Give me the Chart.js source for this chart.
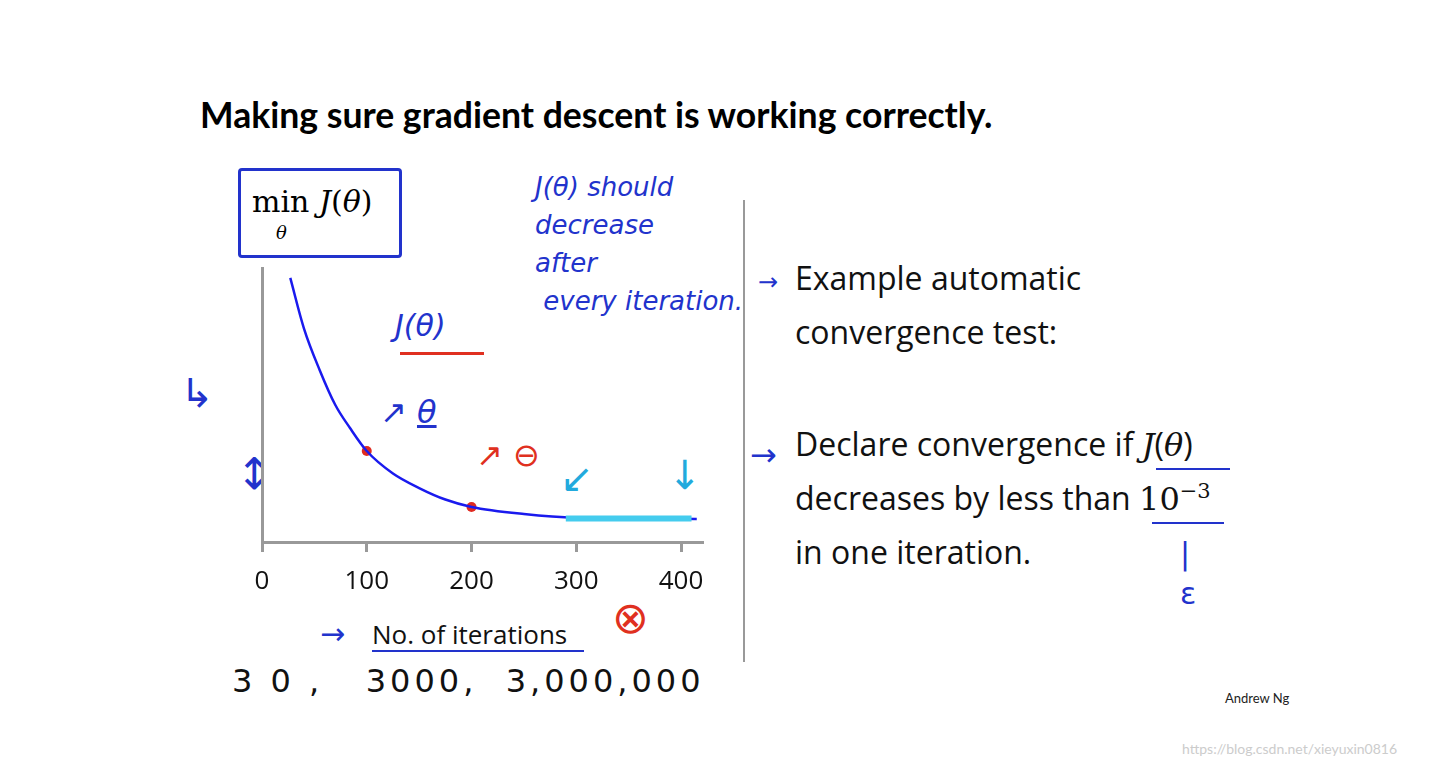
<!DOCTYPE html>
<html><head><meta charset="utf-8">
<script src="https://cdn.jsdelivr.net/npm/chart.js@4/dist/chart.umd.min.js"></script>
<style>
body{margin:0;width:1431px;height:766px;background:#fff;position:relative;overflow:hidden;font-family:Lato,"Open Sans",sans-serif}
.t{position:absolute;white-space:nowrap}
.h{color:#2233cc;font-family:"DejaVu Sans";font-style:italic;font-size:26px}
.r{font-size:32px;color:#111;font-family:"Open Sans"}
.m{font-family:"DejaVu Serif";font-style:italic}
</style></head><body>
<div class="t" style="left:200px;top:93px;font-size:35.6px;font-weight:bold;color:#000">Making sure gradient descent is working correctly.</div>
<div class="t" style="left:238px;top:168px;width:158px;height:84px;border:3px solid #2233cc;border-radius:4px"></div>
<div class="t" style="left:252px;top:184px;font-size:30px;font-family:'DejaVu Serif'">min <span class="m">J</span>(<span class="m">θ</span>)</div>
<div class="t m" style="left:276px;top:222px;font-size:18px">θ</div>
<div class="t h" style="left:535px;top:168px;line-height:38px">J(θ) should<br>decrease<br>after<br>&nbsp;every iteration.</div>
<div class="t h" style="left:395px;top:308px;font-size:30px">J(θ)</div>
<div class="t" style="left:400px;top:352px;width:84px;height:3px;background:#e03020"></div>
<div class="t h" style="left:380px;top:393px;font-size:32px">↗ <u>θ</u></div>
<div class="t h" style="left:476px;top:436px;font-size:32px;color:#e03020">↗ ⊖</div>
<div class="t h" style="left:180px;top:370px;font-size:40px">↳</div>
<div class="t h" style="left:236px;top:448px;font-size:44px;font-style:normal">↕</div>
<div class="t h" style="left:560px;top:455px;font-size:40px;color:#22aadd;font-style:normal">↙</div>
<div class="t h" style="left:668px;top:452px;font-size:40px;color:#22aadd;font-style:normal">↓</div>
<div class="t h" style="left:612px;top:592px;font-size:44px;color:#e03020;font-style:normal">⊗</div>
<div class="t h" style="left:320px;top:616px;font-size:30px;font-style:normal">→</div>
<div class="t" style="left:372px;top:616px;font-size:26px;color:#111;font-family:'Open Sans'">No. of iterations</div>
<div class="t" style="left:372px;top:650px;width:212px;height:2px;background:#2233cc"></div>
<div class="t h" style="left:232px;top:662px;font-size:32px;color:#111;font-style:normal;letter-spacing:4px">3 0 ,&nbsp;&nbsp;&nbsp;3000,&nbsp;&nbsp;3,000,000</div>
<div class="t" style="left:743px;top:200px;width:2px;height:462px;background:#999"></div>
<div class="t h" style="left:758px;top:268px;font-size:24px;font-style:normal">→</div>
<div class="t r" style="left:795px;top:256px">Example automatic</div>
<div class="t r" style="left:795px;top:310px">convergence test:</div>
<div class="t h" style="left:750px;top:436px;font-size:32px;font-style:normal">→</div>
<div class="t r" style="left:795px;top:422px">Declare convergence if <span class="m">J</span>(<span class="m">θ</span>)</div>
<div class="t r" style="left:795px;top:476px">decreases by less than <span style="font-family:'DejaVu Serif'">10<sup style="font-size:21px">−3</sup></span></div>
<div class="t r" style="left:795px;top:530px">in one iteration.</div>
<div class="t" style="left:1156px;top:468px;width:74px;height:2px;background:#2233cc"></div>
<div class="t" style="left:1152px;top:522px;width:72px;height:2px;background:#2233cc"></div>
<div class="t h" style="left:1180px;top:534px;font-size:30px;line-height:40px;font-style:normal">|<br>ε</div>
<div class="t" style="left:1225px;top:690px;font-size:13px;color:#222">Andrew Ng</div>
<div class="t" style="left:1182px;top:740px;font-size:14px;color:#ccc">https://blog.csdn.net/xieyuxin0816</div>
<div style="position:absolute;left:200px;top:240px;width:540px;height:400px"><canvas id="c"></canvas></div>
<script>
const curveX=[27,40,55,70,84,100,125,150,175,200,250,300,350,415];
const curveY=[96.4,78,62.8,50,41.6,33.2,25,19.7,15.5,12.8,10.2,8.8,8.6,8.4];
const markX=[100,200];
const markY=[33.2,12.8];
const flatX=[290,410];
const flatY=[8.6,8.6];
const xTicks=[0,100,200,300,400];
new Chart(document.getElementById('c'),{
 type:'scatter',
 data:{datasets:[
  {data:flatX.map((x,i)=>({x,y:flatY[i]})),showLine:true,borderColor:'#44ccee',borderWidth:6,pointRadius:0},
  {data:curveX.map((x,i)=>({x,y:curveY[i]})),showLine:true,borderColor:'#1a1aee',borderWidth:2.5,pointRadius:0,tension:0.4,cubicInterpolationMode:'monotone'},
  {data:markX.map((x,i)=>({x,y:markY[i]})),pointRadius:5,backgroundColor:'#e02a20',borderWidth:0}
 ]},
 options:{responsive:true,maintainAspectRatio:false,animation:false,
  layout:{padding:{left:62,right:38,top:28,bottom:0}},
  plugins:{legend:{display:false},tooltip:{enabled:false}},
  scales:{
   x:{type:'linear',min:0,max:420,afterBuildTicks:a=>{a.ticks=xTicks.map(v=>({value:v}))},
      afterFit:a=>{a.height=98},
      border:{color:'#999',width:3},
      grid:{drawOnChartArea:false,color:'#999',lineWidth:3,tickLength:10},
      ticks:{color:'#111',font:{size:26,family:'Open Sans'},padding:14,maxRotation:0}},
   y:{min:0,max:100,afterFit:a=>{a.width=0},ticks:{display:false},
      border:{color:'#999',width:3},grid:{display:false}}
  }}
});
</script>
</body></html>
